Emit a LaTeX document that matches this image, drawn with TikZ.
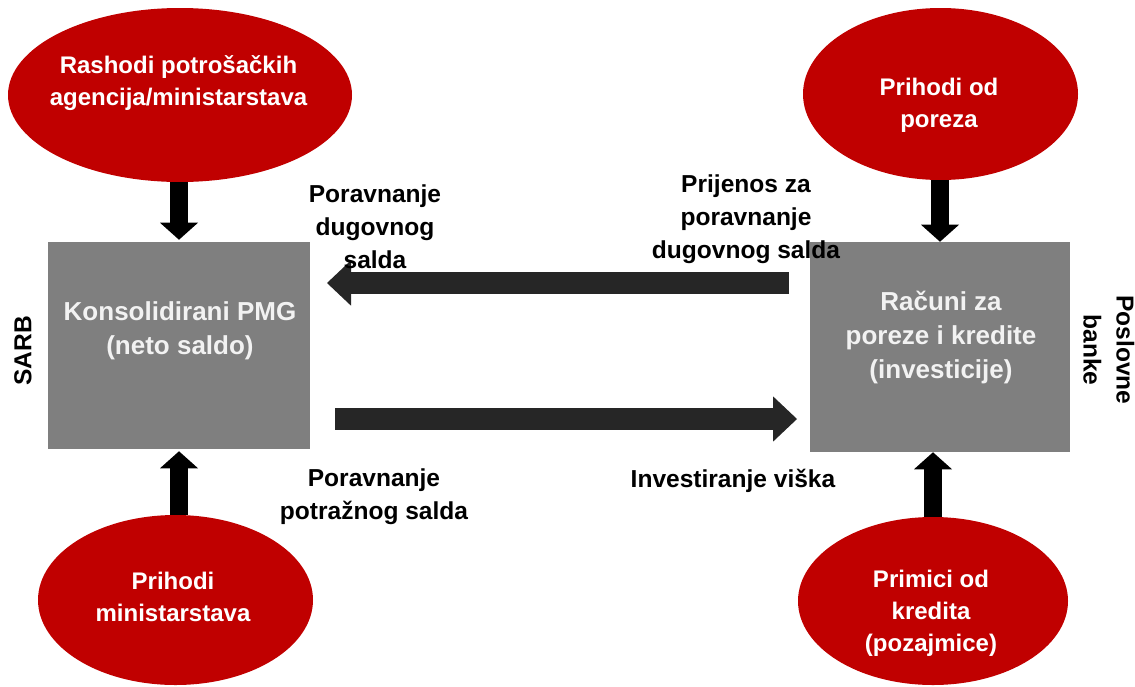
\documentclass[tikz,border=0pt]{standalone}
\usepackage{fontspec}
\setmainfont{Liberation Sans}
\usetikzlibrary{arrows.meta,shapes.geometric}
\definecolor{ovalred}{HTML}{C00000}
\definecolor{boxgray}{HTML}{7F7F7F}
\definecolor{flowdark}{HTML}{262626}

\begin{document}
\begin{tikzpicture}[x=0.75pt,y=0.75pt,yscale=-1,xscale=1,
  oval/.style={ellipse,fill=ovalred,inner sep=0pt},
  acct/.style={rectangle,fill=boxgray,inner sep=0pt},
  ovaltext/.style={text=white,font=\fontsize{18}{24}\selectfont\bfseries,align=center,inner sep=0.75pt},
  accttext/.style={text=white!95!black,font=\fontsize{19.5}{25.5}\selectfont\bfseries,align=center,inner sep=0.75pt},
  flowtext/.style={font=\fontsize{18.4}{24.75}\selectfont\bfseries,align=center,inner sep=0.75pt},
  downarrow/.style={draw=black,line width=13.5pt,-{Triangle[length=12.75pt,width=28.5pt,line width=0pt]}},
  fatarrow/.style={draw=flowdark,line width=16.5pt,-{Triangle[length=18pt,width=34pt,line width=0pt]}}]
\useasboundingbox (0,0) rectangle (1135,686);

%Shape: Ellipse [id:rashodi]
\node [oval,minimum width=258pt,minimum height=130.5pt] (rashodi) at (180,95) {};
%Shape: Ellipse [id:porezi]
\node [oval,minimum width=206.25pt,minimum height=129pt] (porezi) at (940.5,94) {};
%Shape: Ellipse [id:prihmin]
\node [oval,minimum width=206.25pt,minimum height=127.5pt] (prihmin) at (175.5,600) {};
%Shape: Ellipse [id:krediti]
\node [oval,minimum width=202.5pt,minimum height=126pt] (krediti) at (933,601) {};

%Shape: Rectangle [id:pmg]
\node [acct,minimum width=196.5pt,minimum height=155.25pt] (pmg) at (179,345.5) {};
%Shape: Rectangle [id:racuni]
\node [acct,minimum width=195pt,minimum height=157.5pt] (racuni) at (940,347) {};

%Arrows into the accounts
\draw [downarrow] (rashodi.south -| pmg.north) -- ([yshift=-1.5]pmg.north);
\draw [downarrow] (porezi.south -| racuni.north) -- (racuni.north);
\draw [downarrow] (pmg.south |- prihmin.north) -- ([yshift=1.5]pmg.south);
\draw [downarrow] (krediti.north) -- (krediti.north |- racuni.south);

%Transfers between the accounts
\coordinate (dugR) at (789,283);
\coordinate (dugL) at (327,283);
\coordinate (visL) at (335,419);
\coordinate (visR) at (797,419);
\draw [fatarrow] (dugR) -- (dugL);
\draw [fatarrow] (visL) -- (visR);

% Text Node
\draw (178.5,83) node [ovaltext] (rashodiT) {Rashodi potrošačkih\\agencija/ministarstava};
% Text Node
\draw (939,105) node [ovaltext] (poreziT) {Prihodi od\\poreza};
% Text Node
\draw (173,597) node [ovaltext] (prihminT) {Prihodi\\ministarstava};
% Text Node
\draw (931,613) node [ovaltext] (creditT) {Primici od\\kredita\\(pozajmice)};
% Text Node
\draw (180,331) node [accttext] (pmgT) {Konsolidirani PMG\\(neto saldo)};
% Text Node
\draw (941,337) node [accttext] (racuniT) {Računi za\\poreze i kredite\\(investicije)};
% Text Node
\draw (375,227) node [flowtext] (dugT) {Poravnanje\\dugovnog\\salda};
% Text Node
\draw (746,219) node [flowtext] (prijT) {Prijenos za\\poravnanje\\dugovnog salda};
% Text Node
\draw (374,497) node [flowtext] (potT) {Poravnanje\\potražnog salda};
% Text Node
\draw (733,481) node [flowtext] (visT) {Investiranje viška};
% Text Node
\draw (23,351) node [flowtext,rotate=90] (sarb) {SARB};
% Text Node
\draw (1109,350) node [flowtext,rotate=-90] (banke) {Poslovne\\banke};

\end{tikzpicture}
\end{document}
